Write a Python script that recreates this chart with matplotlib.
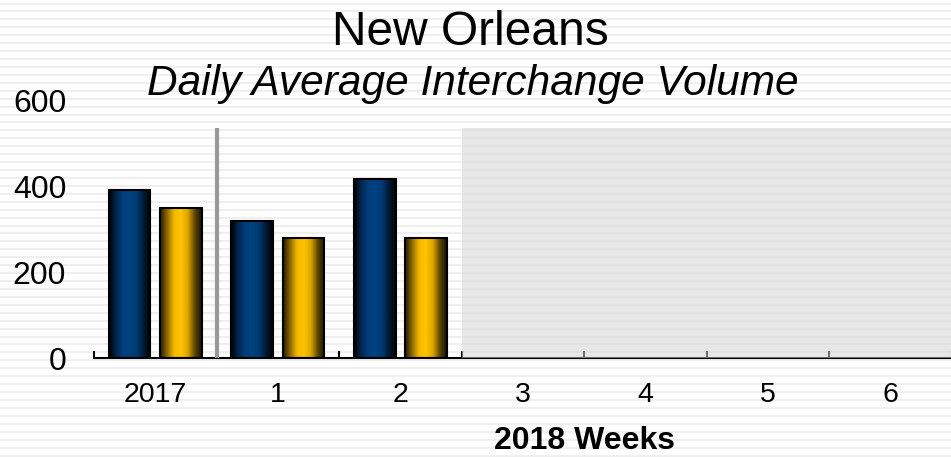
import numpy as np
import matplotlib
matplotlib.use("Agg")
import matplotlib.pyplot as plt
from matplotlib.colors import LinearSegmentedColormap

plt.rcParams["font.family"] = ["Liberation Sans", "DejaVu Sans"]

# ------------------------------------------------------------
# data
# ------------------------------------------------------------
categories = ["2017", "1", "2", "3", "4", "5", "6"]
series_a = [391, 318, 417]      # dark blue bars
series_b = [349, 278, 278]      # gold bars
y_ticks = [0, 200, 400, 600]

# ------------------------------------------------------------
# figure + striped background
# ------------------------------------------------------------
W, H = 951, 457
fig = plt.figure(figsize=(W / 100, H / 100), dpi=100)
fig.patch.set_facecolor("white")

bg = fig.add_axes([0, 0, 1, 1], zorder=-1)
bg.set_xlim(0, W)
bg.set_ylim(H, 0)
bg.axis("off")
for yy in np.arange(3.5, H, 7.93):
    bg.axhline(yy, color="#efefef", lw=1.5)

ax = fig.add_axes([94 / W, 1 - 358 / H, (952 - 94) / W, 258 / H])
ax.set_facecolor("none")

# cylinder-style shading for the bars
blue_cmap = LinearSegmentedColormap.from_list(
    "blue_cyl", ["#000000", "#00264d", "#003e7c", "#00427f", "#003a73", "#001a33", "#000000"])
gold_cmap = LinearSegmentedColormap.from_list(
    "gold_cyl", ["#221800", "#8c6900", "#f5b800", "#ffc400", "#dca500", "#5e4600", "#151000"])

x = np.arange(len(categories))
bar_w = 0.34
offset = 0.21
grad = np.linspace(0, 1, 128).reshape(1, -1)


def draw_bars(xpos, vals, cmap):
    for xc, v in zip(xpos, vals):
        ax.imshow(grad, cmap=cmap, aspect="auto", interpolation="bicubic",
                  extent=[xc - bar_w / 2, xc + bar_w / 2, 0, v], zorder=2)
    ax.bar(xpos, vals, width=bar_w, facecolor="none",
           edgecolor="black", linewidth=1.5, zorder=3)


n = len(series_a)
draw_bars(x[:n] - offset, series_a, blue_cmap)
draw_bars(x[:n] + offset, series_b, gold_cmap)

# divider between 2017 and the 2018 weeks, and the future-weeks shading
ax.vlines(0.5, 0, 535, color="#9a9a9a", lw=3, zorder=4)
ax.fill_between([2.5, 6.5], 0, 535, color="#d3d3d3", alpha=0.53,
                lw=0, zorder=5)

ax.set_xlim(-0.5, 6.5)
ax.set_ylim(0, 600)

# axes styling
for s in ["left", "top", "right"]:
    ax.spines[s].set_visible(False)
ax.spines["bottom"].set_linewidth(1.5)

ax.set_yticks(y_ticks)
ax.tick_params(axis="y", length=0, pad=20, labelsize=23)

ax.set_xticks(np.arange(-0.5, 7, 1))
ax.set_xticklabels([])
ax.tick_params(axis="x", which="major", direction="in", length=5, width=1.5)
ax.set_xticks(x, minor=True)
ax.set_xticklabels(categories, minor=True)
ax.tick_params(axis="x", which="minor", length=0, pad=17, labelsize=20.5)

ax.text(3.5, -0.32, "2018 Weeks", transform=ax.get_xaxis_transform(),
        ha="center", va="center", fontsize=23, fontweight="bold")

# titles
fig.text(0.495, 1 - 45 / H, "New Orleans", ha="center", va="baseline",
         fontsize=34.5)
fig.text(0.497, 1 - 95 / H, "Daily Average Interchange Volume",
         ha="center", va="baseline", fontsize=30.5, style="italic")

fig.savefig("out.png", dpi=100)
